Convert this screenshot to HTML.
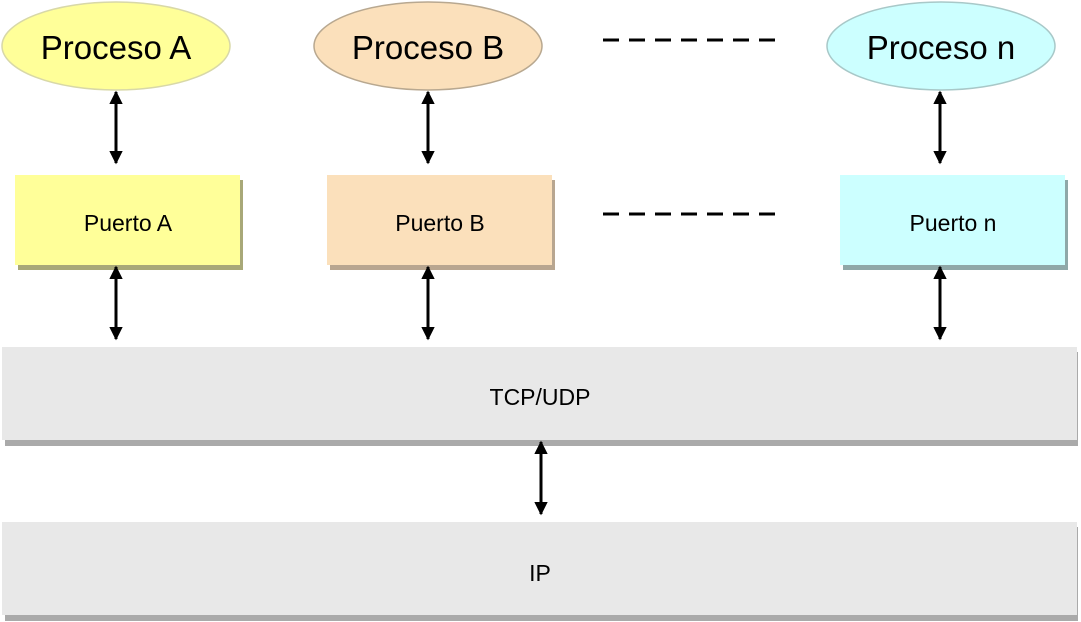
<!DOCTYPE html>
<html><head><meta charset="utf-8"><style>
html,body{margin:0;padding:0;background:#fff;width:1081px;height:622px;overflow:hidden}
svg{display:block}
text{font-family:"Liberation Sans",sans-serif;fill:#000}
</style></head><body>
<svg width="1081" height="622" viewBox="0 0 1081 622" xmlns="http://www.w3.org/2000/svg">
<defs>
<marker id="ah" viewBox="0 0 10 10" refX="9" refY="5" markerWidth="4.5" markerHeight="4.5" orient="auto-start-reverse"><path d="M0,0 L10,5 L0,10 z" fill="#000"/></marker>
</defs>
<ellipse cx="116" cy="46" rx="114" ry="44" fill="#ffff99" stroke="#d8d8a8" stroke-width="1.5"/>
<text x="116" y="59" font-size="33" text-anchor="middle">Proceso A</text>
<ellipse cx="428" cy="46" rx="114" ry="44" fill="#fbe0bb" stroke="#b8a890" stroke-width="1.5"/>
<text x="428" y="59" font-size="33" text-anchor="middle">Proceso B</text>
<ellipse cx="941" cy="46" rx="114" ry="44" fill="#ccffff" stroke="#a8c8c8" stroke-width="1.5"/>
<text x="941" y="59" font-size="33" text-anchor="middle">Proceso n</text>
<line x1="603" y1="40" x2="778" y2="40" stroke="#000" stroke-width="3" stroke-dasharray="16,10"/>
<line x1="603" y1="214" x2="778" y2="214" stroke="#000" stroke-width="3" stroke-dasharray="16,10"/>
<rect x="18" y="180" width="225" height="90" fill="#a8a878"/>
<rect x="15" y="175" width="225" height="90" fill="#ffff99"/>
<text x="128" y="231" font-size="23" text-anchor="middle">Puerto A</text>
<rect x="330" y="180" width="225" height="90" fill="#b8a690"/>
<rect x="327" y="175" width="225" height="90" fill="#fbe0bb"/>
<text x="440" y="231" font-size="23" text-anchor="middle">Puerto B</text>
<rect x="843" y="180" width="225" height="90" fill="#8fa8a8"/>
<rect x="840" y="175" width="225" height="90" fill="#ccffff"/>
<text x="953" y="231" font-size="23" text-anchor="middle">Puerto n</text>
<rect x="5" y="352" width="1073" height="94" fill="#aaaaaa"/>
<rect x="2" y="347" width="1075" height="93" fill="#e8e8e8"/>
<text x="540" y="405" font-size="23" text-anchor="middle">TCP/UDP</text>
<rect x="5" y="527" width="1073" height="94" fill="#aaaaaa"/>
<rect x="2" y="522" width="1075" height="93" fill="#e8e8e8"/>
<text x="540" y="581" font-size="23" text-anchor="middle">IP</text>
<g stroke="#000" stroke-width="3" marker-start="url(#ah)" marker-end="url(#ah)">
<line x1="116" y1="92" x2="116" y2="163"/>
<line x1="428" y1="92" x2="428" y2="163"/>
<line x1="940" y1="92" x2="940" y2="163"/>
<line x1="116" y1="267" x2="116" y2="339"/>
<line x1="428" y1="267" x2="428" y2="339"/>
<line x1="940" y1="267" x2="940" y2="339"/>
<line x1="541" y1="442" x2="541" y2="514"/>
</g>
</svg>
</body></html>
